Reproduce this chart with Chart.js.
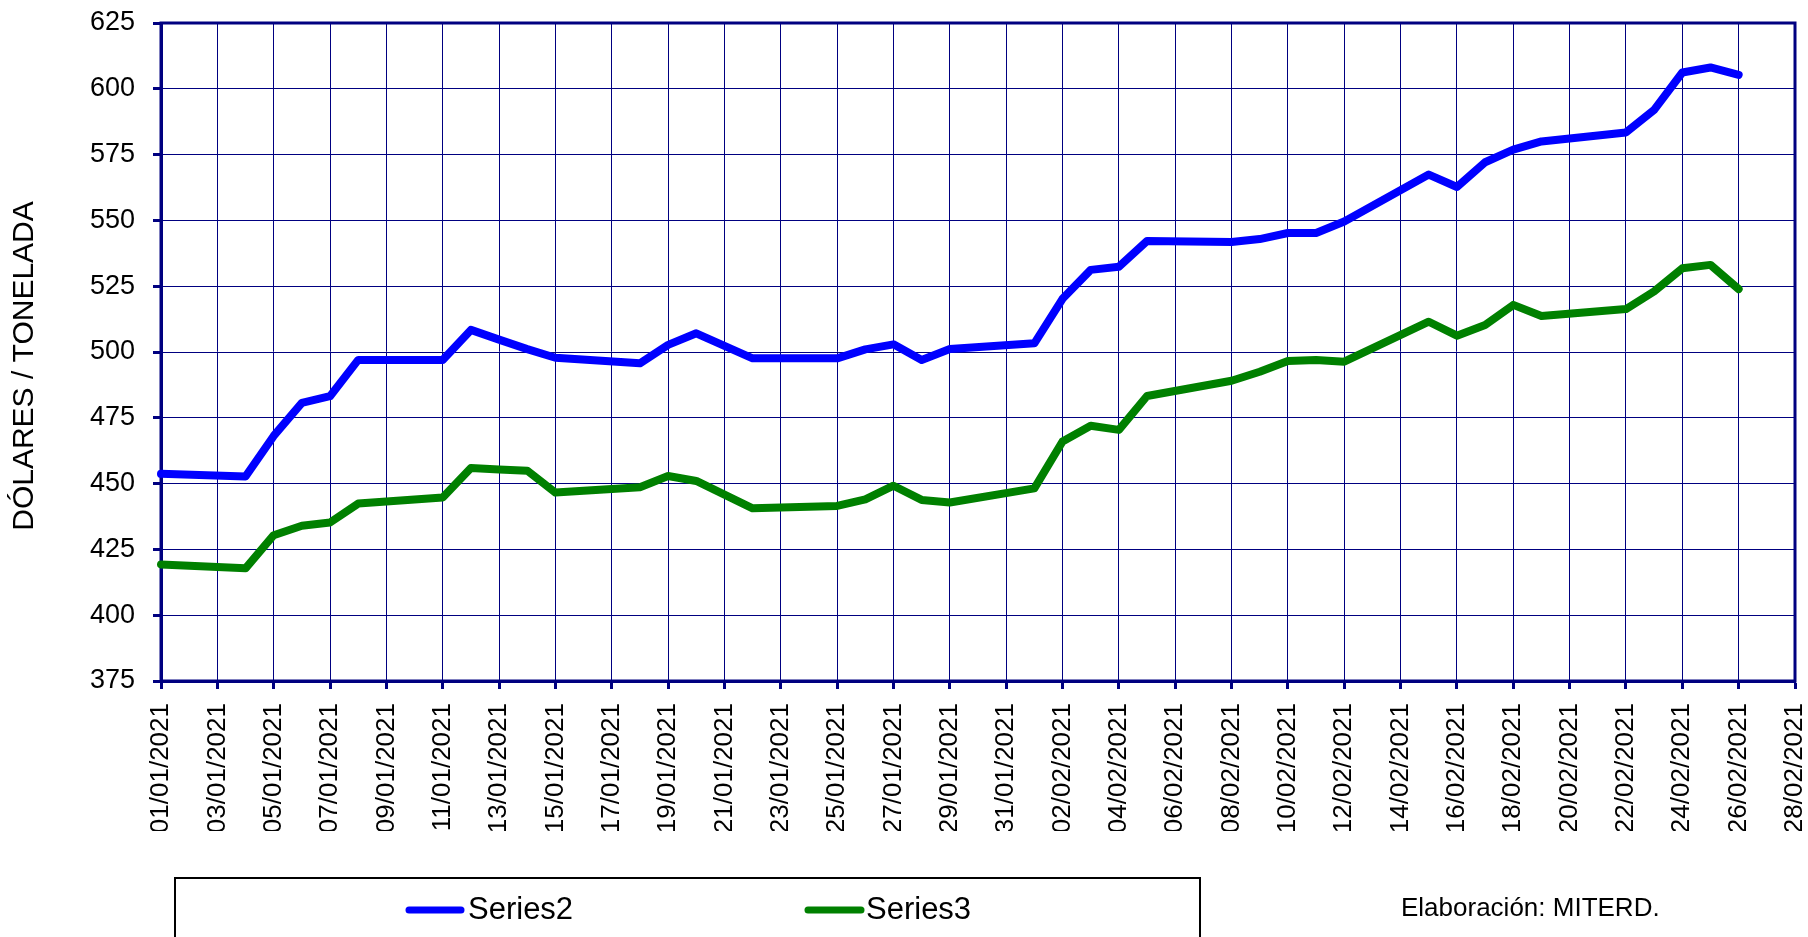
<!DOCTYPE html>
<html>
<head>
<meta charset="utf-8">
<script src="https://cdn.jsdelivr.net/npm/chart.js@4.4.0/dist/chart.umd.min.js"></script>
<style>
  html, body { margin: 0; padding: 0; background: #ffffff; }
  #wrap { width: 1808px; height: 937px; position: relative; overflow: hidden; }
</style>
</head>
<body>
<div id="wrap"><canvas id="c" width="1808" height="937"></canvas></div>
<script>
// ---- Data ----
const axisDays = [
  '01/01/2021','02/01/2021','03/01/2021','04/01/2021','05/01/2021','06/01/2021','07/01/2021','08/01/2021','09/01/2021','10/01/2021',
  '11/01/2021','12/01/2021','13/01/2021','14/01/2021','15/01/2021','16/01/2021','17/01/2021','18/01/2021','19/01/2021','20/01/2021',
  '21/01/2021','22/01/2021','23/01/2021','24/01/2021','25/01/2021','26/01/2021','27/01/2021','28/01/2021','29/01/2021','30/01/2021',
  '31/01/2021','01/02/2021','02/02/2021','03/02/2021','04/02/2021','05/02/2021','06/02/2021','07/02/2021','08/02/2021','09/02/2021',
  '10/02/2021','11/02/2021','12/02/2021','13/02/2021','14/02/2021','15/02/2021','16/02/2021','17/02/2021','18/02/2021','19/02/2021',
  '20/02/2021','21/02/2021','22/02/2021','23/02/2021','24/02/2021','25/02/2021','26/02/2021','27/02/2021','28/02/2021'
];

const dates = [
  '01/01/2021','04/01/2021','05/01/2021','06/01/2021','07/01/2021','08/01/2021',
  '11/01/2021','12/01/2021','13/01/2021','14/01/2021','15/01/2021',
  '18/01/2021','19/01/2021','20/01/2021','21/01/2021','22/01/2021',
  '25/01/2021','26/01/2021','27/01/2021','28/01/2021','29/01/2021',
  '01/02/2021','02/02/2021','03/02/2021','04/02/2021','05/02/2021',
  '08/02/2021','09/02/2021','10/02/2021','11/02/2021','12/02/2021',
  '15/02/2021','16/02/2021','17/02/2021','18/02/2021','19/02/2021',
  '22/02/2021','23/02/2021','24/02/2021','25/02/2021','26/02/2021'
];

const series2 = [
  453.7, 452.7, 468.1, 480.7, 483.2, 497.0,
  497.0, 508.4, 504.7, 501.1, 497.8,
  495.7, 502.7, 507.1, 502.3, 497.6,
  497.6, 501.0, 502.9, 497.0, 501.1,
  503.3, 520.2, 531.2, 532.4, 542.2,
  541.8, 542.9, 545.2, 545.2, 549.6,
  567.4, 562.7, 572.1, 576.9, 580.0,
  583.4, 592.0, 606.2, 608.1, 605.3
];

const series3 = [
  419.3, 417.8, 430.4, 434.0, 435.2, 442.4,
  444.7, 455.9, 455.4, 454.9, 446.6,
  448.6, 452.9, 451.0, 445.8, 440.6,
  441.5, 444.0, 449.2, 443.8, 442.8,
  448.2, 466.0, 472.0, 470.4, 483.3,
  489.1, 492.5, 496.6, 497.0, 496.3,
  511.5, 506.2, 510.3, 517.9, 513.7,
  516.3, 523.0, 531.8, 533.1, 523.9
];

const seriesNames = ['Series2', 'Series3'];
const seriesColors = ['#0000FF', '#008000'];
const yTitle = 'DÓLARES / TONELADA';
const sourceNote = 'Elaboración: MITERD.';
const yMin = 375, yMax = 625, yStep = 25;

// ---- Chart ----
const FONT = '"Liberation Sans", Arial, sans-serif';
const NAVY = '#000080';

const frame = {
  id: 'frame',
  beforeDatasetsDraw(chart) {
    const a = chart.chartArea, ctx = chart.ctx;
    ctx.save();
    ctx.strokeStyle = NAVY;
    ctx.lineWidth = 3;
    ctx.strokeRect(a.left, a.top, a.right - a.left, a.bottom - a.top);
    ctx.restore();
  },
  afterDraw(chart) {
    const ctx = chart.ctx;
    ctx.save();
    // y axis title
    ctx.translate(25, 366);
    ctx.rotate(-Math.PI / 2);
    ctx.font = '30px ' + FONT;
    ctx.fillStyle = '#000000';
    ctx.textAlign = 'center';
    ctx.textBaseline = 'middle';
    ctx.fillText(yTitle, 0, 0);
    ctx.restore();

    ctx.save();
    // legend box
    ctx.strokeStyle = '#000000';
    ctx.lineWidth = 2;
    ctx.strokeRect(175, 878, 1025, 90);
    const items = [{x0: 409, x1: 461, tx: 468}, {x0: 808, x1: 861, tx: 866}];
    chart.data.datasets.forEach((ds, i) => {
      const it = items[i];
      ctx.strokeStyle = ds.borderColor;
      ctx.lineWidth = 7;
      ctx.lineCap = 'round';
      ctx.beginPath();
      ctx.moveTo(it.x0, 910);
      ctx.lineTo(it.x1, 910);
      ctx.stroke();
      ctx.fillStyle = '#000000';
      ctx.font = '31px ' + FONT;
      ctx.textBaseline = 'middle';
      ctx.textAlign = 'left';
      ctx.fillText(ds.label, it.tx, 910);
    });
    ctx.font = '26px ' + FONT;
    ctx.fillStyle = '#000000';
    ctx.textBaseline = 'middle';
    ctx.fillText(sourceNote, 1401, 909);
    ctx.restore();
  }
};

const datasets = [series2, series3].map((vals, i) => ({
  label: seriesNames[i],
  data: dates.map((d, j) => ({x: d, y: vals[j]})),
  borderColor: seriesColors[i],
  backgroundColor: seriesColors[i],
  borderWidth: 8,
  pointRadius: 0,
  pointHoverRadius: 0,
  tension: 0,
  fill: false,
  borderCapStyle: 'round',
  borderJoinStyle: 'round'
}));

new Chart(document.getElementById('c'), {
  type: 'line',
  data: { labels: axisDays, datasets },
  plugins: [frame],
  options: {
    responsive: false,
    animation: false,
    devicePixelRatio: 1,
    layout: { padding: { left: 0, top: 23, right: 13, bottom: 106 } },
    plugins: { legend: { display: false }, tooltip: { enabled: false } },
    scales: {
      x: {
        type: 'category',
        offset: false,
        afterFit(s) { s.height = 150; s.paddingLeft = 0; s.paddingRight = 0; },
        border: { display: true, color: NAVY, width: 3 },
        grid: {
          color: NAVY, lineWidth: 1, borderDash: [1, 1],
          drawTicks: true, tickLength: 8, tickColor: NAVY, tickWidth: 3, tickBorderDash: []
        },
        ticks: {
          autoSkip: false, maxRotation: 90, minRotation: 90, padding: 14,
          color: '#000000', font: { family: FONT, size: 26, lineHeight: 1.0 },
          callback(v, idx) { return idx % 2 === 0 ? this.getLabelForValue(v) : null; }
        }
      },
      y: {
        min: yMin, max: yMax,
        afterFit(s) { s.width = 161; s.paddingTop = 0; s.paddingBottom = 0; },
        border: { display: true, color: NAVY, width: 3 },
        grid: {
          color: NAVY, lineWidth: 1, borderDash: [1, 1],
          drawTicks: true, tickLength: 8, tickColor: NAVY, tickWidth: 3, tickBorderDash: []
        },
        ticks: {
          stepSize: yStep, padding: 18, color: '#000000',
          font: { family: FONT, size: 27 }
        },
        title: { display: false }
      }
    }
  }
});
</script>
</body>
</html>
